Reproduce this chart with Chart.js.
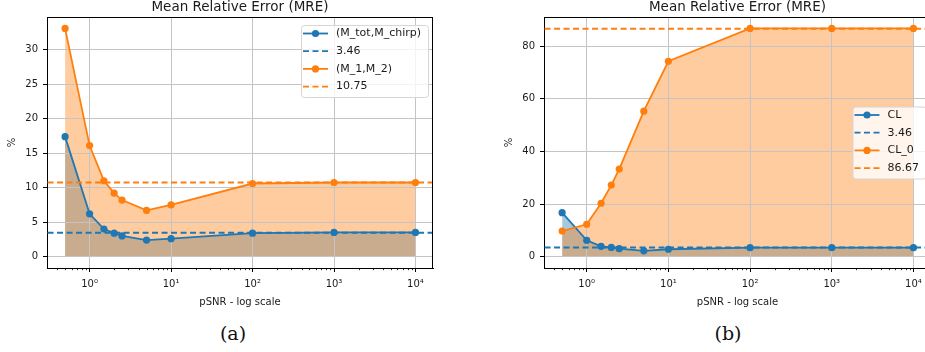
<!DOCTYPE html>
<html>
<head>
<meta charset="utf-8">
<script src="https://cdn.jsdelivr.net/npm/chart.js@4.4.1/dist/chart.umd.min.js"></script>
<style>
    html, body { margin: 0; padding: 0; background: #fff; overflow: hidden; width: 925px; height: 352px; }
    .panel { position: absolute; top: 0; }
    #wrapA { left: 0; }
    #wrapB { left: 465px; }
    .cap { position: absolute; top: 322px; line-height: 22px; font-family: "DejaVu Serif", "Liberation Serif", serif; font-size: 19px; color: #111; transform: translateX(-50%); }
</style>
</head>
<body>
<div class="panel" id="wrapA"><canvas id="chartA" width="460" height="320"></canvas></div>
<div class="panel" id="wrapB"><canvas id="chartB" width="470" height="320"></canvas></div>
<div class="cap" style="left:233px">(a)</div>
<div class="cap" style="left:728px">(b)</div>

<script>
// data
const snr = [0.5, 1, 1.5, 2, 2.5, 5, 10, 100, 1000, 10000];

const mreTotChirp = [17.4, 6.2, 4.0, 3.4, 3.0, 2.4, 2.6, 3.4, 3.5, 3.5];
const mreM1M2 = [33.1, 16.1, 11.0, 9.2, 8.2, 6.7, 7.5, 10.6, 10.75, 10.75];
const meanA = [3.46, 10.75];
const namesA = ['(M_tot,M_chirp)', '(M_1,M_2)'];

const mreCL = [16.7, 6.2, 3.9, 3.5, 3.0, 2.2, 2.8, 3.4, 3.4, 3.4];
const mreCL0 = [9.7, 12.3, 20.3, 27.2, 33.3, 55.3, 74.3, 86.8, 86.8, 86.8];
const meanB = [3.46, 86.67];
const namesB = ['CL', 'CL_0'];

const yTicksA = [0, 5, 10, 15, 20, 25, 30];
const yTicksB = [0, 20, 40, 60, 80];
const xTickValues = [1, 10, 100, 1000, 10000];
const xTickLabels = ['10\u2070', '10\u00b9', '10\u00b2', '10\u00b3', '10\u2074'];

const C0 = '#1f77b4';
const C1 = '#ff7f0e';
const FONT = '"DejaVu Sans", sans-serif';

// matplotlib style 5% margins, log on x
const logLo = Math.log10(Math.min(...snr));
const logHi = Math.log10(Math.max(...snr));
const xMin = Math.pow(10, logLo - 0.05 * (logHi - logLo));
const xMax = Math.pow(10, logHi + 0.05 * (logHi - logLo));

// title, spines, minor ticks
const axesDeco = {
    id: 'axesDeco',
    afterDraw(chart) {
        const ctx = chart.ctx, a = chart.chartArea, xs = chart.scales.x;
        ctx.save();
        ctx.strokeStyle = '#000';
        ctx.lineWidth = 1;
        ctx.beginPath();
        ctx.moveTo(a.left, a.top + 0.5); ctx.lineTo(a.right, a.top + 0.5);
        ctx.moveTo(a.right - 0.5, a.top); ctx.lineTo(a.right - 0.5, a.bottom);
        ctx.stroke();
        // minor log ticks
        ctx.lineWidth = 0.8;
        ctx.beginPath();
        for (let k = Math.floor(Math.log10(xMin)); k <= Math.ceil(Math.log10(xMax)); k++) {
            for (let m = 2; m <= 9; m++) {
                const v = m * Math.pow(10, k);
                if (v < xMin || v > xMax) continue;
                const px = Math.round(xs.getPixelForValue(v)) + 0.5;
                ctx.moveTo(px, a.bottom); ctx.lineTo(px, a.bottom + 2.2);
            }
        }
        ctx.stroke();
        ctx.fillStyle = '#1a1a1a';
        ctx.font = '13.5px ' + FONT;
        ctx.textAlign = 'center';
        ctx.textBaseline = 'alphabetic';
        ctx.fillText('Mean Relative Error (MRE)', (a.left + a.right) / 2, 11);
        ctx.restore();
    }
};

// legend drawn inside the axes like matplotlib
const mreLegend = {
    id: 'mreLegend',
    afterDraw(chart, args, opts) {
        const ctx = chart.ctx, a = chart.chartArea;
        const items = chart.data.datasets;
        ctx.save();
        ctx.font = '11px ' + FONT;
        const textW = Math.max(...items.map(d => ctx.measureText(d.label).width));
        const w = 35 + textW + 7, h = 72, row = 17.7;
        const x = a.right - 5 - w;
        const y = opts.loc === 'center right' ? (a.top + a.bottom) / 2 - h / 2 : a.top + 8;
        ctx.fillStyle = 'rgba(255,255,255,0.8)';
        ctx.strokeStyle = '#d6d6d6';
        ctx.lineWidth = 1;
        ctx.beginPath();
        ctx.roundRect(x + 0.5, y + 0.5, w, h, 3);
        ctx.fill();
        ctx.stroke();
        items.forEach(function (d, i) {
            const cy = y + 8.5 + i * row;
            ctx.strokeStyle = d.borderColor;
            ctx.lineWidth = d.borderWidth;
            ctx.setLineDash(d.borderDash || []);
            ctx.beginPath();
            ctx.moveTo(x + 2, cy); ctx.lineTo(x + 27, cy);
            ctx.stroke();
            ctx.setLineDash([]);
            if (d.pointRadius > 0) {
                ctx.fillStyle = d.borderColor;
                ctx.beginPath();
                ctx.arc(x + 14.5, cy, d.pointRadius, 0, 2 * Math.PI);
                ctx.fill();
            }
            ctx.fillStyle = '#1a1a1a';
            ctx.textBaseline = 'middle';
            ctx.fillText(d.label, x + 35, cy);
        });
        ctx.restore();
    }
};

function seriesSet(label, ys, color, fillColor, order) {
    return {
        label: label,
        data: snr.map((x, i) => ({ x: x, y: ys[i] })),
        borderColor: color,
        backgroundColor: fillColor,
        borderWidth: 1.8,
        pointRadius: 3.6,
        pointBackgroundColor: color,
        pointBorderWidth: 0,
        fill: 'origin',
        tension: 0,
        order: order
    };
}

function meanSet(value, color, order) {
    return {
        label: value.toFixed(2),
        data: [{ x: xMin, y: value }, { x: xMax, y: value }],
        borderColor: color,
        borderWidth: 1.8,
        borderDash: [6, 3.5],
        pointRadius: 0,
        fill: false,
        order: order
    };
}

function makeChart(id, s1, s2, means, names, yTicks, loc, padLeft, padRight) {
    const top = Math.max(...s1, ...s2);
    return new Chart(document.getElementById(id), {
        type: 'line',
        data: {
            datasets: [
                seriesSet(names[0], s1, C0, 'rgba(31,119,180,0.4)', 3),
                meanSet(means[0], C0, 2),
                seriesSet(names[1], s2, C1, 'rgba(255,127,14,0.4)', 1),
                meanSet(means[1], C1, 0)
            ]
        },
        options: {
            responsive: false,
            animation: false,
            events: [],
            devicePixelRatio: 1,
            layout: { padding: { left: padLeft, top: 17, right: padRight, bottom: 0 } },
            plugins: {
                legend: { display: false },
                tooltip: { enabled: false },
                filler: { drawTime: 'beforeDraw' },
                mreLegend: { loc: loc }
            },
            scales: {
                x: {
                    type: 'logarithmic',
                    min: xMin,
                    max: xMax,
                    afterBuildTicks: function (s) { s.ticks = xTickValues.map(v => ({ value: v })); },
                    afterFit: function (s) { s.height = 52; },
                    grid: { color: '#c4c4c4', lineWidth: 1, tickLength: 4, tickColor: '#000' },
                    border: { color: '#000', width: 1 },
                    ticks: {
                        callback: (v, i) => xTickLabels[i],
                        font: { family: FONT, size: 10 },
                        color: '#1a1a1a',
                        padding: 6,
                        maxRotation: 0,
                        autoSkip: false
                    },
                    title: {
                        display: true,
                        text: 'pSNR - log scale',
                        font: { family: FONT, size: 10 },
                        color: '#1a1a1a',
                        padding: { top: 0, bottom: 12 }
                    }
                },
                y: {
                    min: -0.05 * top,
                    max: 1.05 * top,
                    afterBuildTicks: function (s) { s.ticks = yTicks.map(v => ({ value: v })); },
                    afterFit: function (s) { s.width = 47; },
                    grid: { color: '#c4c4c4', lineWidth: 1, tickLength: 4, tickColor: '#000' },
                    border: { color: '#000', width: 1 },
                    ticks: { font: { family: FONT, size: 10 }, color: '#1a1a1a', padding: 5 },
                    title: {
                        display: true,
                        text: '%',
                        font: { family: FONT, size: 10 },
                        color: '#1a1a1a',
                        padding: { top: 6, bottom: 0 }
                    }
                }
            }
        },
        plugins: [axesDeco, mreLegend]
    });
}

document.addEventListener("DOMContentLoaded", function () {
    makeChart('chartA', mreTotChirp, mreM1M2, meanA, namesA, yTicksA, 'upper right', 0, 27);
    makeChart('chartB', mreCL, mreCL0, meanB, namesB, yTicksB, 'center right', 32, 4);
});
</script>
</body>
</html>
